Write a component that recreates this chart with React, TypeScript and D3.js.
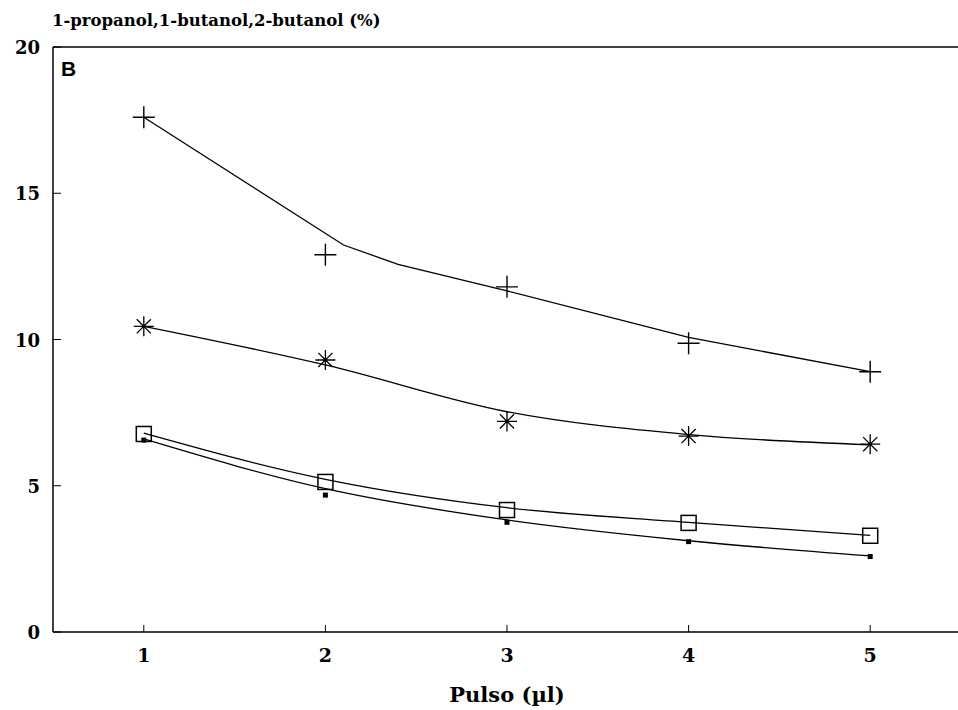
import React, { useEffect, useRef } from 'react';
import * as d3 from 'd3';

const pulses = [1, 2, 3, 4, 5];
const xTicks = [1, 2, 3, 4, 5];
const yTicks = [0, 5, 10, 15, 20];

// measured points
const plusPoints = [17.6, 12.9, 11.8, 9.87, 8.9];
const starPoints = [10.45, 9.3, 7.2, 6.7, 6.42];
const squarePoints = [6.77, 5.13, 4.17, 3.73, 3.29];
const dotPoints = [6.56, 4.68, 3.75, 3.09, 2.58];

// fitted curves
const plusFitX = [1, 2.1, 2.4, 3, 4, 5];
const plusFit = [17.6, 13.23, 12.57, 11.66, 10.07, 8.9];
const starFit = [10.45, 9.13, 7.53, 6.75, 6.4];
const squareFit = [6.8, 5.22, 4.25, 3.75, 3.3];
const dotFit = [6.6, 4.9, 3.83, 3.12, 2.6];

const App: React.FC = () => {
  const svgRef = useRef<SVGSVGElement | null>(null);

  useEffect(() => {
    if (!svgRef.current) return;
    const svg = d3.select(svgRef.current);
    svg.selectAll('*').remove();

    const width = 958;
    const font = '"DejaVu Serif", serif';

    const x = d3.scaleLinear().domain([0.5, 5.5]).range([53, 961]);
    const y = d3.scaleLinear().domain([0, 20]).range([632, 47]);

    const g = svg.append('g');

    // frame: top, left, bottom
    g.append('line').attr('x1', 53).attr('x2', width).attr('y1', y(20)).attr('y2', y(20))
      .attr('stroke', '#000').attr('stroke-width', 1.5);
    g.append('line').attr('x1', 53).attr('x2', width).attr('y1', y(0)).attr('y2', y(0))
      .attr('stroke', '#000').attr('stroke-width', 1.5);
    g.append('line').attr('x1', 53).attr('x2', 53).attr('y1', y(20)).attr('y2', y(0))
      .attr('stroke', '#000').attr('stroke-width', 1.5);

    // y ticks
    g.selectAll('.ytick').data(yTicks).join('line')
      .attr('x1', 53).attr('x2', 61)
      .attr('y1', d => y(d)).attr('y2', d => y(d))
      .attr('stroke', '#000').attr('stroke-width', 1);
    g.selectAll('.ylab').data(yTicks).join('text')
      .attr('x', 40).attr('y', d => y(d) + 7)
      .attr('text-anchor', 'end')
      .attr('font-family', font).attr('font-weight', 'bold').attr('font-size', 18)
      .text(d => d);

    // x ticks
    g.selectAll('.xtick').data(xTicks).join('line')
      .attr('x1', d => x(d)).attr('x2', d => x(d))
      .attr('y1', y(0)).attr('y2', y(0) - 7)
      .attr('stroke', '#000').attr('stroke-width', 1);
    g.selectAll('.xlab').data(xTicks).join('text')
      .attr('x', d => x(d)).attr('y', 662)
      .attr('text-anchor', 'middle')
      .attr('font-family', font).attr('font-weight', 'bold').attr('font-size', 19)
      .text(d => d);

    // titles
    g.append('text').attr('x', 52).attr('y', 26)
      .attr('font-family', font).attr('font-weight', 'bold').attr('font-size', 16.5)
      .text('1-propanol,1-butanol,2-butanol (%)');
    g.append('text').attr('x', 507).attr('y', 702).attr('text-anchor', 'middle')
      .attr('font-family', font).attr('font-weight', 'bold').attr('font-size', 21)
      .text('Pulso (µl)');
    g.append('text').attr('x', 61).attr('y', 76)
      .attr('font-family', '"Liberation Sans", Arial, sans-serif').attr('font-weight', 'bold').attr('font-size', 21)
      .text('B');

    const line = d3.line<number>()
      .x((_, i) => x(pulses[i]))
      .y(d => y(d))
      .curve(d3.curveMonotoneX);

    const plusLine = d3.line<number>()
      .x((_, i) => x(plusFitX[i]))
      .y(d => y(d))
      .curve(d3.curveLinear);

    g.append('path').attr('d', plusLine(plusFit) || '')
      .attr('fill', 'none').attr('stroke', '#000').attr('stroke-width', 1.3);
    [starFit, squareFit, dotFit].forEach(fit => {
      g.append('path').attr('d', line(fit) || '')
        .attr('fill', 'none').attr('stroke', '#000').attr('stroke-width', 1.3);
    });

    // plus markers
    plusPoints.forEach((v, i) => {
      const cx = x(pulses[i]);
      const cy = y(v);
      g.append('path')
        .attr('d', `M${cx - 11},${cy}H${cx + 11}M${cx},${cy - 11}V${cy + 11}`)
        .attr('stroke', '#000').attr('stroke-width', 1.4).attr('fill', 'none');
    });

    // star markers
    starPoints.forEach((v, i) => {
      const cx = x(pulses[i]);
      const cy = y(v);
      const r = 10;
      const d7 = r * Math.SQRT1_2;
      g.append('path')
        .attr('d', `M${cx - r},${cy}H${cx + r}M${cx},${cy - r}V${cy + r}` +
          `M${cx - d7},${cy - d7}L${cx + d7},${cy + d7}M${cx - d7},${cy + d7}L${cx + d7},${cy - d7}`)
        .attr('stroke', '#000').attr('stroke-width', 1.3).attr('fill', 'none');
    });

    // square markers
    g.selectAll('.sq').data(squarePoints).join('rect')
      .attr('x', (_, i) => x(pulses[i]) - 7.5)
      .attr('y', d => y(d) - 7.5)
      .attr('width', 15).attr('height', 15)
      .attr('fill', 'none').attr('stroke', '#000').attr('stroke-width', 1.5);

    // dot markers
    g.selectAll('.dot').data(dotPoints).join('rect')
      .attr('x', (_, i) => x(pulses[i]) - 2.5)
      .attr('y', d => y(d) - 2.5)
      .attr('width', 5).attr('height', 5)
      .attr('fill', '#000');
  }, []);

  return (
    <svg ref={svgRef} width={958} height={710}
      style={{ position: 'absolute', left: 0, top: 0, background: '#fff' }} />
  );
};

export default App;
